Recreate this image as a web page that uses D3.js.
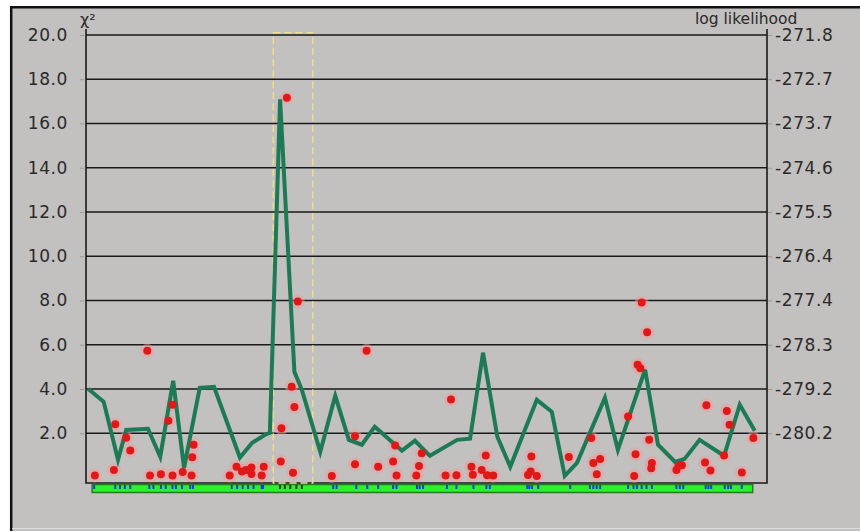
<!DOCTYPE html>
<html>
<head>
<meta charset="utf-8">
<script src="https://cdn.jsdelivr.net/npm/d3@7"></script>
<style>
  body { margin: 0; background: #fff; }
  svg { display: block; font-family: "DejaVu Sans", sans-serif; }
</style>
</head>
<body>
<script>
// chi-square profile along the chromosome (position, chi2)
var profilePos = [0.3, 2.6, 4.7, 5.9, 9.1, 10.9, 12.8, 14.4, 16.7, 18.8, 22.6, 24.4, 26.3, 27.0,
  28.5, 30.6, 31.7, 34.4, 36.6, 38.6, 40.5, 42.4, 45.4, 46.4, 48.3, 50.5, 54.5, 56.4, 58.3,
  60.4, 62.3, 66.2, 68.4, 70.3, 72.1, 76.2, 78.1, 82.1, 84.0, 86.5, 87.9, 90.1, 93.7, 96.0, 98.2];
var profileChi = [4.01, 3.42, 0.80, 2.15, 2.20, 0.93, 4.37, 0.43, 4.05, 4.10, 0.90, 1.57, 1.93, 2.02,
  17.09, 4.78, 3.96, 1.16, 3.69, 1.70, 1.48, 2.29, 1.48, 1.21, 1.66, 0.98, 1.70, 1.75, 5.64,
  1.84, 0.48, 3.51, 2.97, 0.07, 0.66, 3.60, 1.25, 4.87, 1.48, 0.70, 0.84, 1.70, 0.98, 3.29, 2.11];

// single marker tests (position, chi2)
var markerPos = [1.3, 4.1, 4.3, 5.9, 6.5, 9.0, 9.4, 11.0, 12.1, 12.7, 12.7, 14.2, 15.5, 15.6, 15.8,
  21.1, 22.1, 22.9, 23.5, 24.3, 24.3, 25.8, 26.1, 28.6, 28.7, 29.5, 30.2, 30.6, 30.4, 31.1,
  36.1, 39.5, 39.5, 41.2, 42.9, 45.1, 45.6, 45.4, 48.5, 48.9, 49.3, 52.8, 53.6, 54.4, 56.6,
  56.8, 58.1, 58.7, 58.9, 59.8, 64.9, 65.4, 65.3, 66.2, 70.9, 74.2, 74.5, 75.5, 75.0, 79.6,
  81.6, 82.4, 81.0, 81.4, 82.7, 80.7, 83.1, 83.0, 80.5, 86.7, 87.5, 87.0, 91.1, 90.9, 91.7,
  94.1, 94.5, 93.7, 96.3, 98.0];
var markerChi = [0.09, 0.34, 2.41, 1.79, 1.22, 5.73, 0.09, 0.14, 2.56, 3.29, 0.09, 0.25, 0.09, 0.91, 1.48,
  0.09, 0.49, 0.27, 0.34, 0.16, 0.45, 0.09, 0.49, 0.72, 2.23, 17.16, 4.10, 3.19, 0.21, 7.95,
  0.07, 1.86, 0.60, 5.73, 0.49, 0.72, 0.09, 1.45, 0.09, 0.52, 1.10, 0.09, 3.52, 0.10, 0.49,
  0.12, 0.34, 0.99, 0.10, 0.09, 0.11, 0.95, 0.27, 0.07, 0.93, 1.78, 0.65, 0.83, 0.14, 2.76,
  7.91, 6.56, 5.10, 4.94, 1.70, 1.05, 0.65, 0.42, 0.07, 0.34, 0.55, 0.52, 3.26, 0.68, 0.32,
  3.00, 2.38, 0.99, 0.22, 1.78];

// marker ticks on the chromosome bar
var tickPos = [1.2, 4.3, 5.0, 5.7, 6.5, 9.3, 9.9, 11.0, 11.7, 12.7, 13.2, 14.1, 15.3, 15.7,
  21.4, 22.2, 23.0, 23.8, 24.6, 25.8, 26.0, 28.5, 29.2, 30.0, 30.9, 31.7, 36.3, 36.8, 39.7,
  41.3, 42.9, 45.1, 45.6, 48.6, 49.0, 49.5, 53.0, 54.4, 56.9, 58.8, 59.3, 64.8, 65.1, 65.5,
  66.4, 71.1, 74.0, 74.5, 75.0, 75.5, 79.6, 80.4, 80.9, 81.6, 82.3, 83.1, 86.7, 87.2, 87.7,
  91.0, 91.4, 91.8, 93.8, 94.3, 94.7, 96.3];

var chromExtent = [0.9, 97.9];
var highlight = [27.5, 33.3];

var leftTicks = [2, 4, 6, 8, 10, 12, 14, 16, 18, 20];
var rightLabels = ['-280.2', '-279.2', '-278.3', '-277.4', '-276.4', '-275.5', '-274.6', '-273.7', '-272.7', '-271.8'];

var width = 860,
    height = 531;

var x = d3.scaleLinear().domain([0, 100]).range([86, 767]);
var y = d3.scaleLinear().domain([-0.25, 20]).range([483, 35]);

var svg = d3.select('body')
  .append('svg')
  .attr('width', width)
  .attr('height', height);

// panel with black frame on top/left
svg.append('rect')
  .attr('x', 11).attr('y', 7)
  .attr('width', width - 11).attr('height', height - 7)
  .attr('fill', '#c3c0c0');
svg.append('path')
  .attr('d', 'M11.2,' + height + 'V7.2H' + width)
  .attr('fill', 'none')
  .attr('stroke', '#111')
  .attr('stroke-width', 2.5);
svg.append('line')
  .attr('x1', 12).attr('x2', width)
  .attr('y1', 528.5).attr('y2', 528.5)
  .attr('stroke', '#dedcdc')
  .attr('stroke-width', 1);

// grid lines
svg.append('g')
  .selectAll('line')
  .data(leftTicks)
  .enter()
  .append('line')
  .attr('x1', x(0)).attr('x2', x(100))
  .attr('y1', function(d) { return y(d); })
  .attr('y2', function(d) { return y(d); })
  .attr('stroke', '#1a1a1a')
  .attr('stroke-width', 1.6);

// frame of plot
svg.append('path')
  .attr('d', 'M' + x(0) + ',29V' + y.range()[0] + 'H' + x(100) + 'V29')
  .attr('fill', 'none')
  .attr('stroke', '#1a1a1a')
  .attr('stroke-width', 1.6);

// axes
var yLeft = d3.axisLeft(y)
  .tickValues(leftTicks)
  .tickSize(4)
  .tickPadding(12)
  .tickFormat(d3.format('.1f'));
var gl = svg.append('g')
  .attr('transform', 'translate(' + (x(0) - 2) + ',0)')
  .call(yLeft);

var yRight = d3.axisRight(y)
  .tickValues(leftTicks)
  .tickSize(4)
  .tickPadding(3)
  .tickFormat(function(d, i) { return rightLabels[i]; });
var gr = svg.append('g')
  .attr('transform', 'translate(' + (x(100) + 1) + ',0)')
  .call(yRight);

[gl, gr].forEach(function(g) {
  g.select('.domain').remove();
  g.selectAll('.tick line').attr('stroke', '#9a9898');
  g.selectAll('.tick text')
    .attr('fill', '#2a2a2a')
    .attr('font-size', 17)
    .attr('letter-spacing', 0.6)
    .attr('font-family', '"DejaVu Sans", sans-serif');
});

svg.append('text')
  .attr('x', 80).attr('y', 25)
  .attr('font-size', 16)
  .attr('fill', '#2a2a2a')
  .text('χ²');

svg.append('text')
  .attr('x', 695).attr('y', 24)
  .attr('font-size', 15.5)
  .attr('fill', '#2a2a2a')
  .text('log likelihood');

// chromosome bar with markers
svg.append('rect')
  .attr('x', x(chromExtent[0]))
  .attr('y', 484.5)
  .attr('width', x(chromExtent[1]) - x(chromExtent[0]))
  .attr('height', 8)
  .attr('fill', '#2cf22c')
  .attr('stroke', '#237a23')
  .attr('stroke-width', 1.5);

svg.append('g')
  .selectAll('rect')
  .data(tickPos)
  .enter()
  .append('rect')
  .attr('x', function(d) { return x(d) - 1; })
  .attr('y', 485)
  .attr('width', 2)
  .attr('height', 4)
  .attr('fill', function(d) {
    return (d >= highlight[0] && d <= highlight[1]) ? '#2a3a2a' : '#1b38e0';
  });

// selected interval
svg.append('rect')
  .attr('x', x(highlight[0]))
  .attr('y', y(20.1))
  .attr('width', x(highlight[1]) - x(highlight[0]))
  .attr('height', y(-0.25) - y(20.1))
  .attr('fill', 'none')
  .attr('stroke', '#f0e08a')
  .attr('stroke-width', 1.4)
  .attr('stroke-dasharray', '7,4');

// marker points
var pts = d3.range(markerPos.length);
svg.append('g')
  .selectAll('circle')
  .data(pts)
  .enter()
  .append('circle')
  .attr('cx', function(i) { return x(markerPos[i]); })
  .attr('cy', function(i) { return y(markerChi[i]); })
  .attr('r', 7)
  .attr('fill', '#f29a9a')
  .attr('opacity', 0.45);

// profile line
var line = d3.line()
  .x(function(i) { return x(profilePos[i]); })
  .y(function(i) { return y(profileChi[i]); });

svg.append('path')
  .datum(d3.range(profilePos.length))
  .attr('d', line)
  .attr('fill', 'none')
  .attr('stroke', '#1d7a55')
  .attr('stroke-width', 4)
  .attr('stroke-linejoin', 'miter');

svg.append('g')
  .selectAll('circle')
  .data(pts)
  .enter()
  .append('circle')
  .attr('cx', function(i) { return x(markerPos[i]); })
  .attr('cy', function(i) { return y(markerChi[i]); })
  .attr('r', 4)
  .attr('fill', '#e01818');
</script>
</body>
</html>
